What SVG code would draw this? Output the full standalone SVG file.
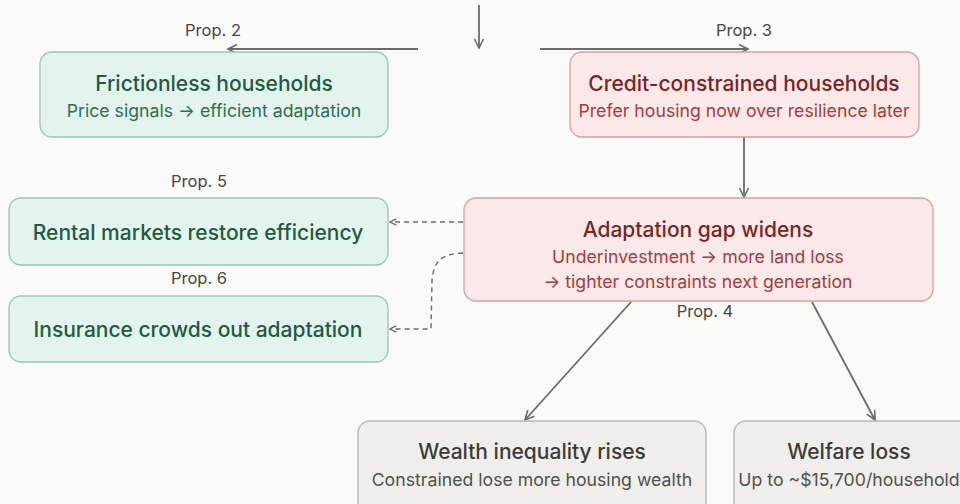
<svg xmlns="http://www.w3.org/2000/svg" width="960" height="504" viewBox="0 0 960 504">
  <defs>
    <marker id="arrow" viewBox="0 0 12 12" refX="11" refY="6" markerWidth="12" markerHeight="12" markerUnits="userSpaceOnUse" orient="auto">
      <path d="M2,1.5 L11,6 L2,10.5" fill="none" stroke="#6b6b68" stroke-width="1.6"/>
    </marker>
    <marker id="arrow-dash" viewBox="0 0 10 10" refX="9" refY="5" markerWidth="9" markerHeight="9" markerUnits="userSpaceOnUse" orient="auto">
      <path d="M2,1.5 L9,5 L2,8.5" fill="none" stroke="#6b6b68" stroke-width="1.4"/>
    </marker>
    <style>
      .bg { fill: #fafaf8; }
      .box { stroke-width: 1.3; }
      .green { fill: #e3f4ee; stroke: #97c7b2; }
      .red { fill: #fbe9e9; stroke: #d9a09e; }
      .gray { fill: #efeeea; stroke: #bab8b2; }
      text { font-family: "Inter", "Liberation Sans", sans-serif; text-anchor: middle; }
      .title { font-size: 21px; font-weight: 500; }
      .sub { font-size: 17.7px; font-weight: 400; }
      .g-t { fill: #1f5a41; }
      .g-s { fill: #2e6e52; }
      .r-t { fill: #7a2424; }
      .r-s { fill: #a33c3c; }
      .k-t { fill: #3b3b39; }
      .k-s { fill: #50504d; }
      .prop { font-size: 16.5px; fill: #474745; }
      .edge { fill: none; stroke: #6b6b68; stroke-width: 1.8; marker-end: url(#arrow); }
      .dash { fill: none; stroke: #6b6b68; stroke-width: 1.4; stroke-dasharray: 5 4; marker-end: url(#arrow-dash); }
    </style>
  </defs>

  <rect class="bg" x="0" y="0" width="960" height="504"/>

  <!-- connectors -->
  <g id="connectors">
    <path class="edge" d="M479,5 L479,48"/>
    <path class="edge" d="M418,49 L228,49"/>
    <path class="edge" d="M540,49 L748,49"/>
    <path class="edge" d="M744,137 L744,197"/>
    <path class="dash" d="M463,222 L390,222"/>
    <path class="dash" d="M463,253 C440,254 434,262 432,280 L431,329 L390,329"/>
    <path class="edge" d="M631,302 L525,420"/>
    <path class="edge" d="M812,302 L875,420"/>
    <text class="prop" x="213" y="36">Prop. 2</text>
    <text class="prop" x="744" y="36">Prop. 3</text>
    <text class="prop" x="199" y="187">Prop. 5</text>
    <text class="prop" x="199" y="284">Prop. 6</text>
    <text class="prop" x="705" y="317">Prop. 4</text>
  </g>

  <!-- nodes -->
  <g id="frictionless">
    <rect class="box green" x="40" y="52" width="348" height="85" rx="12"/>
    <text class="title g-t" x="214" y="91">Frictionless households</text>
    <text class="sub g-s" x="214" y="117">Price signals → efficient adaptation</text>
  </g>

  <g id="credit-constrained">
    <rect class="box red" x="570" y="52" width="349" height="85" rx="12"/>
    <text class="title r-t" x="744" y="91">Credit-constrained households</text>
    <text class="sub r-s" x="744" y="117">Prefer housing now over resilience later</text>
  </g>

  <g id="adaptation-gap">
    <rect class="box red" x="464" y="198" width="469" height="103" rx="12"/>
    <text class="title r-t" x="698" y="237">Adaptation gap widens</text>
    <text class="sub r-s" x="698" y="263">Underinvestment → more land loss</text>
    <text class="sub r-s" x="698" y="288">→ tighter constraints next generation</text>
  </g>

  <g id="rental-markets">
    <rect class="box green" x="9" y="198" width="379" height="67" rx="12"/>
    <text class="title g-t" x="198" y="240">Rental markets restore efficiency</text>
  </g>

  <g id="insurance">
    <rect class="box green" x="9" y="296" width="379" height="66" rx="12"/>
    <text class="title g-t" x="198" y="337">Insurance crowds out adaptation</text>
  </g>

  <g id="wealth-inequality">
    <rect class="box gray" x="358" y="421" width="348" height="92" rx="12"/>
    <text class="title k-t" x="532" y="459">Wealth inequality rises</text>
    <text class="sub k-s" x="532" y="486">Constrained lose more housing wealth</text>
  </g>

  <g id="welfare-loss">
    <rect class="box gray" x="734" y="421" width="240" height="92" rx="12"/>
    <text class="title k-t" x="849" y="459">Welfare loss</text>
    <text class="sub k-s" x="849" y="486">Up to ~$15,700/household</text>
  </g>
</svg>
